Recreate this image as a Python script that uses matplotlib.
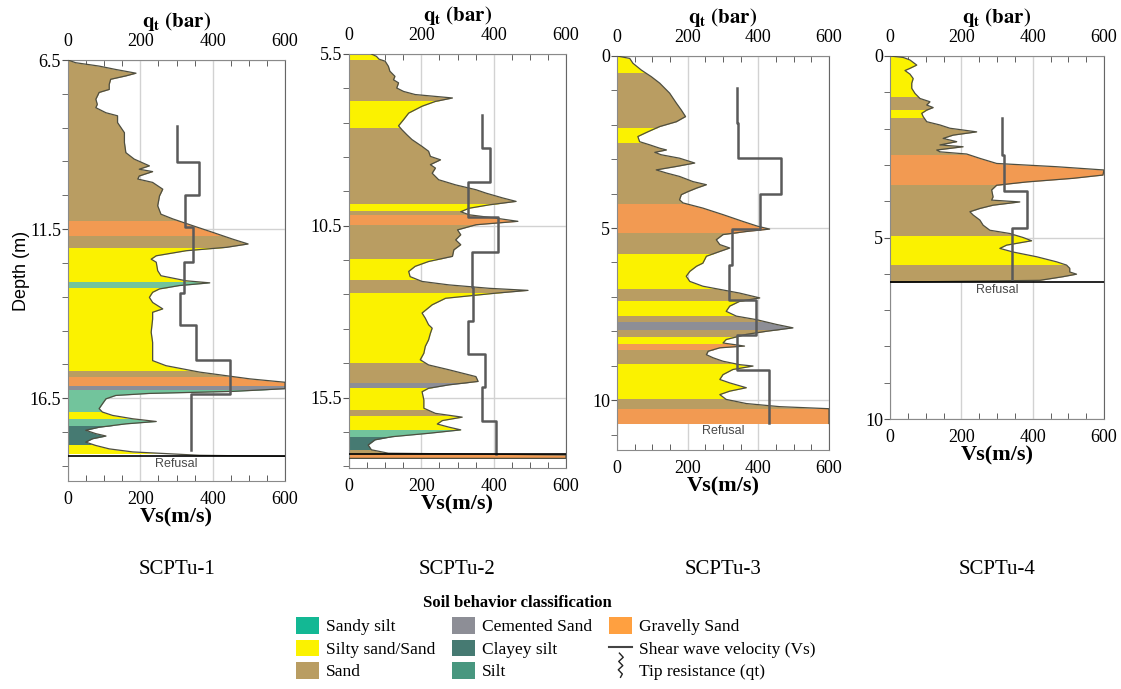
import numpy as np
import matplotlib.pyplot as plt
from matplotlib.patches import Rectangle, Patch
from matplotlib.lines import Line2D
from matplotlib.legend_handler import HandlerBase

plt.rcParams['font.family'] = 'Liberation Serif'
plt.rcParams['mathtext.fontset'] = 'stix'

soil_colors = {
    'Sandy silt': '#13b894',
    'Silty sand/Sand': '#fbf200',
    'Sand': '#b99d62',
    'Cemented Sand': '#8d8e96',
    'Clayey silt': '#467a72',
    'Silt': '#72c49c',
    'Gravelly Sand': '#f29a52',
}

# ---------------- SCPTu-1 ----------------
p1_depth = [6.50, 6.58, 6.68, 6.78, 6.89, 6.97, 7.07, 7.22, 7.37, 7.46, 7.66, 7.81, 7.91,
            8.06, 8.15, 8.35, 8.65, 8.94, 9.24, 9.43, 9.63, 9.73, 9.80, 9.93, 10.02, 10.12,
            10.32, 10.52, 10.81, 11.06, 11.20, 11.40, 11.60, 11.80, 11.94, 12.04, 12.14,
            12.29, 12.39, 12.48, 12.73, 12.88, 13.03, 13.09, 13.17, 13.27, 13.37, 13.52,
            13.67, 13.86, 13.96, 14.16, 14.55, 14.85, 15.14, 15.39, 15.54, 15.73, 15.93,
            16.03, 16.22, 16.30, 16.36, 16.42, 16.52, 16.67, 16.81, 16.91, 17.01, 17.11,
            17.19, 17.26, 17.36, 17.45, 17.55, 17.62, 17.70, 17.80, 17.90, 18.00, 18.09,
            18.19, 18.22]
p1_qt = [0, 21, 86, 132, 188, 160, 118, 114, 114, 86, 77, 81, 77,
         105, 137, 137, 156, 156, 160, 183, 225, 197, 234, 197, 193, 234,
         262, 253, 248, 257, 290, 345, 401, 456, 498, 438, 327,
         244, 230, 244, 248, 257, 327, 392, 308, 253, 234, 225,
         234, 262, 234, 234, 230, 234, 234, 234, 271, 364, 503,
         600, 600, 456, 225, 132, 105, 95, 86, 95, 123, 179,
         244, 160, 86, 49, 77, 105, 68, 49, 77, 114, 179,
         364, 600]
p1_bounds = [6.5, 11.25, 11.70, 12.07, 13.06, 13.25, 15.71, 15.88, 16.13, 16.27,
             16.91, 17.13, 17.31, 17.90, 18.11]
p1_soil = ['Sand', 'Gravelly Sand', 'Sand', 'Silty sand/Sand', 'Silt', 'Silty sand/Sand',
           'Sand', 'Gravelly Sand', 'Cemented Sand', 'Silt', 'Silty sand/Sand', 'Silt',
           'Clayey silt', 'Silty sand/Sand']
p1_vs_bounds = [8.45, 9.51, 10.50, 11.43, 12.48, 13.40, 14.35, 15.36, 16.37, 18.02]
p1_vs = [300, 361, 324, 347, 320, 311, 353, 449, 339]

# ---------------- SCPTu-2 ----------------
p2_depth = [5.50, 5.57, 5.65, 5.71, 5.86, 6.00, 6.15, 6.25, 6.34, 6.49, 6.59, 6.68, 6.78,
            6.88, 7.02, 7.22, 7.41, 7.59, 7.70, 7.85, 7.99, 8.19, 8.33, 8.48, 8.58, 8.72,
            8.82, 8.97, 9.16, 9.31, 9.45, 9.55, 9.69, 9.79, 9.89, 9.99, 10.09, 10.18,
            10.28, 10.37, 10.47, 10.62, 10.76, 10.91, 11.05, 11.20, 11.39, 11.54, 11.68,
            11.83, 11.98, 12.12, 12.22, 12.32, 12.38, 12.46, 12.61, 12.80, 13.04, 13.19,
            13.38, 13.48, 13.63, 13.82, 14.01, 14.21, 14.40, 14.55, 14.69, 14.89, 15.03,
            15.13, 15.23, 15.33, 15.57, 15.81, 15.96, 16.07, 16.17, 16.27, 16.36, 16.44,
            16.54, 16.64, 16.73, 16.88, 17.02, 17.12, 17.17, 17.27, 17.27]
p2_qt = [62, 76, 83, 100, 109, 113, 127, 123, 137, 132, 151, 183, 286,
         239, 202, 165, 151, 137, 146, 160, 174, 202, 220, 225, 253, 225,
         239, 230, 248, 295, 351, 379, 425, 462, 388, 332, 309, 332,
         407, 467, 351, 300, 309, 295, 309, 290, 286, 220, 183,
         165, 169, 202, 276, 388, 495, 407, 267, 230, 202, 211,
         220, 230, 225, 220, 211, 207, 197, 220, 276, 351, 357,
         276, 220, 202, 207, 207, 239, 313, 258, 244, 276, 309,
         220, 118, 72, 53, 62, 109, 600, 600, 0]
p2_bounds = [5.50, 5.68, 6.88, 7.66, 9.86, 10.08, 10.18, 10.47, 11.47, 12.07, 12.46,
             14.48, 15.08, 15.23, 15.86, 16.05, 16.44, 16.64, 17.02, 17.16, 17.27]
p2_soil = ['Silty sand/Sand', 'Sand', 'Silty sand/Sand', 'Sand', 'Silty sand/Sand', 'Sand',
           'Gravelly Sand', 'Sand', 'Silty sand/Sand', 'Sand', 'Silty sand/Sand', 'Sand',
           'Cemented Sand', 'Silty sand/Sand', 'Sand', 'Silty sand/Sand', 'Silt',
           'Clayey silt', 'Sand', 'Gravelly Sand']
p2_vs_bounds = [7.27, 8.24, 9.24, 10.25, 11.27, 12.27, 13.26, 14.24, 15.18, 16.18, 17.13]
p2_vs = [369, 390, 330, 411, 340, 344, 329, 377, 367, 406]

# ---------------- SCPTu-3 ----------------
p3_depth = [0.00, 0.07, 0.21, 0.41, 0.60, 0.79, 1.08, 1.37, 1.57, 1.76, 1.91, 2.05, 2.20,
            2.34, 2.49, 2.58, 2.68, 2.73, 2.80, 2.87, 2.97, 3.11, 3.21, 3.31, 3.40, 3.50,
            3.65, 3.74, 3.84, 3.94, 4.03, 4.18, 4.27, 4.42, 4.61, 4.81, 4.95, 5.03, 5.10,
            5.19, 5.34, 5.48, 5.58, 5.68, 5.82, 6.02, 6.11, 6.26, 6.40, 6.55, 6.69, 6.89,
            7.03, 7.13, 7.27, 7.42, 7.56, 7.66, 7.80, 7.90, 8.00, 8.09, 8.24, 8.34, 8.43,
            8.48, 8.58, 8.68, 8.77, 8.87, 8.97, 9.01, 9.11, 9.26, 9.40, 9.50, 9.64, 9.74,
            9.84, 9.98, 10.10, 10.19, 10.25, 10.68]
p3_qt = [0, 36, 45, 69, 97, 121, 149, 168, 182, 194, 168, 121, 88,
         59, 64, 92, 121, 140, 107, 125, 177, 220, 168, 111, 140, 177,
         215, 253, 225, 201, 182, 177, 187, 243, 300, 357, 399, 432, 366,
         300, 281, 291, 319, 291, 253, 243, 225, 206, 196, 206, 243, 347,
         404, 347, 319, 309, 338, 394, 451, 498, 423, 366, 309, 300, 361,
         291, 258, 253, 272, 300, 347, 385, 328, 300, 291, 319, 366, 319,
         291, 309, 366, 460, 600, 600]
p3_bounds = [0, 0.48, 2.10, 2.53, 4.29, 5.13, 5.74, 6.77, 7.13, 7.56, 7.74, 7.95, 8.16,
             8.36, 8.55, 8.94, 9.96, 10.25, 10.68]
p3_soil = ['Silty sand/Sand', 'Sand', 'Silty sand/Sand', 'Sand', 'Gravelly Sand', 'Sand',
           'Silty sand/Sand', 'Sand', 'Silty sand/Sand', 'Sand', 'Cemented Sand', 'Sand',
           'Silty sand/Sand', 'Gravelly Sand', 'Sand', 'Silty sand/Sand', 'Sand',
           'Gravelly Sand']
p3_vs_bounds = [0.94, 1.95, 2.97, 4.00, 5.03, 6.06, 7.08, 8.12, 9.13, 10.66]
p3_vs = [340, 343, 465, 404, 326, 316, 392, 340, 430]

# ---------------- SCPTu-4 ----------------
p4_depth = [0.00, 0.04, 0.11, 0.25, 0.34, 0.40, 0.50, 0.62, 0.75, 0.89, 1.03, 1.17, 1.26,
            1.35, 1.42, 1.49, 1.58, 1.67, 1.81, 1.90, 1.99, 2.09, 2.18, 2.27, 2.36, 2.45,
            2.50, 2.59, 2.64, 2.70, 2.82, 2.96, 3.05, 3.14, 3.28, 3.37, 3.47, 3.56, 3.69,
            3.88, 3.97, 4.02, 4.11, 4.20, 4.29, 4.38, 4.52, 4.66, 4.80, 4.89, 5.00, 5.09,
            5.21, 5.30, 5.40, 5.53, 5.67, 5.76, 5.85, 5.95, 6.01, 6.08, 6.18, 6.23]
p4_qt = [0, 37, 56, 75, 56, 42, 56, 65, 61, 61, 70, 84, 112,
         103, 121, 103, 89, 93, 103, 140, 168, 243, 177, 149, 187, 140,
         205, 131, 140, 215, 252, 299, 467, 600, 597, 513, 383, 299, 285,
         289, 285, 364, 289, 252, 224, 233, 252, 261, 280, 336, 373, 397,
         327, 308, 345, 411, 467, 495, 504, 504, 523, 485, 420, 0]
p4_bounds = [0, 1.12, 1.49, 1.72, 2.73, 3.56, 4.96, 5.76, 6.23]
p4_soil = ['Silty sand/Sand', 'Sand', 'Silty sand/Sand', 'Sand', 'Gravelly Sand', 'Sand',
           'Silty sand/Sand', 'Sand']
p4_vs_bounds = [1.72, 2.73, 3.71, 4.73, 6.18]
p4_vs = [314, 320, 385, 341]

panels = [
    dict(name='SCPTu-1', depth=p1_depth, qt=p1_qt, bounds=p1_bounds, soil=p1_soil,
         vs_bounds=p1_vs_bounds, vs=p1_vs, ylim=(18.95, 6.5), yticks=[6.5, 11.5, 16.5],
         refusal=18.22, line=True, text=True, pos=(68, 60, 285, 481)),
    dict(name='SCPTu-2', depth=p2_depth, qt=p2_qt, bounds=p2_bounds, soil=p2_soil,
         vs_bounds=p2_vs_bounds, vs=p2_vs, ylim=(17.55, 5.5), yticks=[5.5, 10.5, 15.5],
         refusal=17.14, line=True, text=False, pos=(349, 54, 566, 468)),
    dict(name='SCPTu-3', depth=p3_depth, qt=p3_qt, bounds=p3_bounds, soil=p3_soil,
         vs_bounds=p3_vs_bounds, vs=p3_vs, ylim=(11.45, 0), yticks=[0, 5, 10],
         refusal=10.68, line=False, text=True, pos=(617, 56, 829, 450)),
    dict(name='SCPTu-4', depth=p4_depth, qt=p4_qt, bounds=p4_bounds, soil=p4_soil,
         vs_bounds=p4_vs_bounds, vs=p4_vs, ylim=(10.0, 0), yticks=[0, 5, 10],
         refusal=6.23, line=True, text=True, pos=(890, 56, 1104, 419)),
]

W, H = 1121, 689
fig = plt.figure(figsize=(W / 100, H / 100), dpi=100)

for k, p in enumerate(panels):
    l, t, r, b = p['pos']
    ax = fig.add_axes([l / W, 1 - b / H, (r - l) / W, (b - t) / H])
    ax.set_xlim(0, 600)
    ax.set_ylim(*p['ylim'])

    depth = np.array(p['depth'])
    qt = np.array(p['qt'])
    for i, s in enumerate(p['soil']):
        poly = ax.fill_betweenx(depth, 0, qt, color=soil_colors[s], lw=0, zorder=1)
        clip = Rectangle((0, p['bounds'][i]), 600, p['bounds'][i + 1] - p['bounds'][i],
                         transform=ax.transData)
        poly.set_clip_path(clip)
    ax.plot(qt, depth, color='#4e4e40', lw=0.9, zorder=3)

    vb = np.array(p['vs_bounds'])
    ys = np.repeat(vb, 2)[1:-1]
    xs = np.repeat(p['vs'], 2)
    ax.plot(xs, ys, color='#5a5a5a', lw=1.8, zorder=4)

    if p['line']:
        ax.axhline(p['refusal'], color='black', lw=1.2, zorder=5)
    if p['text']:
        ax.text(300, p['refusal'] + 0.22, 'Refusal', ha='center', va='center',
                family='Liberation Sans', fontsize=9, color='#4a4a4a')

    ax.set_xticks([0, 200, 400, 600])
    ax.set_xticks(np.arange(0, 601, 50), minor=True)
    ax.set_yticks(p['yticks'])
    ax.set_yticklabels([f'{v:g}' for v in p['yticks']])
    ax.set_yticks(np.arange(p['ylim'][1], p['ylim'][0], 1.0), minor=True)
    ax.grid(which='major', color='#d2d2d2', lw=1, zorder=0)
    ax.set_axisbelow(True)
    ax.tick_params(axis='x', which='both', direction='in', top=True, bottom=True,
                   labeltop=True, labelbottom=True, labelsize=13, pad=7, color='#444444')
    ax.tick_params(axis='x', which='major', length=0)
    ax.tick_params(axis='x', which='minor', length=4)
    ax.tick_params(axis='y', which='both', direction='out', length=4, labelsize=13,
                   pad=1, color='#555555')
    for sp in ax.spines.values():
        sp.set_color('#8a8a8a')
    ax.spines['right'].set_color('#666666')

    ax.set_title(r'$\mathbf{q_t\ (bar)}$', fontsize=15, pad=0)
    ax.set_xlabel('Vs(m/s)', fontsize=16, fontweight='bold', labelpad=0)
    if k == 0:
        ax.set_ylabel('Depth (m)', family='Liberation Sans', fontsize=13, labelpad=0)

    fig.text((l + r) / 2 / W, 1 - 570 / H, p['name'], ha='center', va='center', fontsize=15)


class SquiggleHandler(HandlerBase):
    def create_artists(self, legend, orig_handle, xdescent, ydescent, width, height,
                       fontsize, trans):
        fx = [0.45, 0.62, 0.42, 0.6, 0.4, 0.58, 0.5]
        fy = [1.25, 1.0, 0.75, 0.5, 0.25, 0.0, -0.2]
        x = [xdescent + width * v for v in fx]
        y = [ydescent + height * v for v in fy]
        return [Line2D(x, y, color='#222222', lw=1.0, transform=trans)]


tip_handle = Line2D([], [], color='#222222', label='Tip resistance (qt)')
handles = [
    Patch(fc=soil_colors['Sandy silt'], label='Sandy silt'),
    Patch(fc=soil_colors['Silty sand/Sand'], label='Silty sand/Sand'),
    Patch(fc=soil_colors['Sand'], label='Sand'),
    Patch(fc=soil_colors['Cemented Sand'], label='Cemented Sand'),
    Patch(fc=soil_colors['Clayey silt'], label='Clayey silt'),
    Patch(fc='#48977f', label='Silt'),
    Patch(fc='#ffa040', label='Gravelly Sand'),
    Line2D([], [], color='#444444', lw=1.5, label='Shear wave velocity (Vs)'),
    tip_handle,
]
fig.text(517 / W, 1 - 603 / H, 'Soil behavior classification', ha='center', va='center',
         fontsize=12, fontweight='bold')
fig.legend(handles=handles, handler_map={tip_handle: SquiggleHandler()},
           loc='upper left', bbox_to_anchor=(296 / W, 1 - 617 / H), ncol=3, frameon=False,
           fontsize=12.5, handlelength=1.3, handleheight=1.1, labelspacing=0.25,
           columnspacing=1.0, handletextpad=0.4, borderpad=0, borderaxespad=0)

fig.savefig('out.png', dpi=100)
